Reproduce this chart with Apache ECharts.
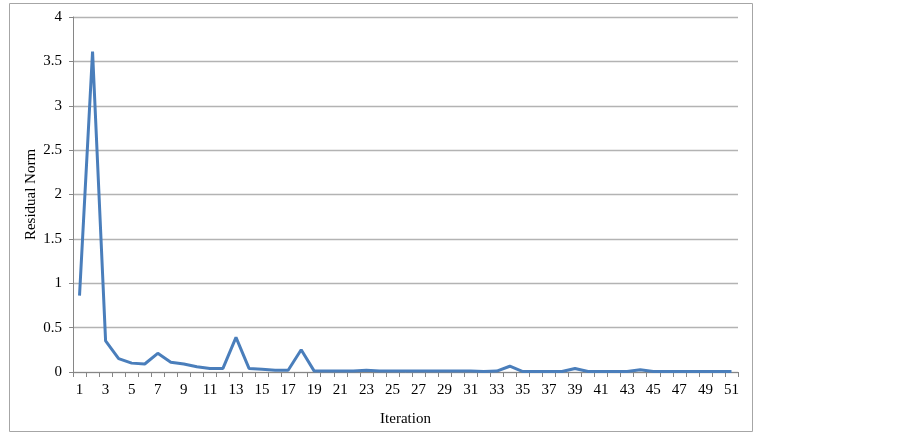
<!DOCTYPE html>
<html><head><meta charset="utf-8">
<script src="https://cdn.jsdelivr.net/npm/echarts@6/dist/echarts.min.js"></script>
<style>html,body{margin:0;padding:0;background:#fff}#c{width:902px;height:435px}</style>
</head><body><div id="c"></div>
<script>
const iterations = [];
for (let i = 1; i <= 51; i++) iterations.push(String(i));
const residualNorm = [0.86, 3.61, 0.35, 0.15, 0.10, 0.09, 0.21, 0.11, 0.09, 0.06,
  0.04, 0.04, 0.39, 0.04, 0.03, 0.02, 0.02, 0.25, 0.01, 0.01,
  0.01, 0.01, 0.02, 0.01, 0.01, 0.01, 0.01, 0.01, 0.01, 0.01,
  0.01, 0.005, 0.01, 0.065, 0.005, 0.005, 0.005, 0.005, 0.04, 0.005,
  0.005, 0.005, 0.005, 0.025, 0.005, 0.005, 0.005, 0.005, 0.005, 0.005, 0.005];
const yTicks = { min: 0, max: 4, interval: 0.5 };

const chart = echarts.init(document.getElementById('c'), null, { renderer: 'canvas' });
const font = '"Liberation Serif", "Times New Roman", serif';
chart.setOption({
  animation: false,
  graphic: [{
    type: 'rect', shape: { x: 9.5, y: 3.5, width: 743, height: 428 },
    style: { fill: 'none', stroke: '#a6a6a6', lineWidth: 1 }, z: -1
  }],
  grid: { left: 73, right: 164, top: 17, bottom: 63 },
  xAxis: {
    type: 'category', data: iterations, boundaryGap: true,
    name: 'Iteration', nameLocation: 'middle', nameGap: 40, nameMoveOverlap: false,
    nameTextStyle: { fontFamily: font, fontSize: 15, color: '#000' },
    axisLine: { lineStyle: { color: '#868686', width: 1 } },
    axisTick: { show: true, interval: 0, length: 5, lineStyle: { color: '#868686' } },
    axisLabel: { interval: 1, fontFamily: font, fontSize: 15, color: '#000', margin: 11 }
  },
  yAxis: {
    type: 'value', min: yTicks.min, max: yTicks.max, interval: yTicks.interval,
    name: 'Residual Norm', nameLocation: 'middle', nameGap: 34, nameRotate: 90, nameMoveOverlap: false,
    nameTextStyle: { fontFamily: font, fontSize: 15, color: '#000' },
    axisLine: { show: true, lineStyle: { color: '#868686', width: 1 } },
    axisTick: { show: true, length: 4, lineStyle: { color: '#868686' } },
    axisLabel: { fontFamily: font, fontSize: 15, color: '#000', margin: 11 },
    splitLine: { show: true, lineStyle: { color: '#b3b3b3', width: 1.3 } }
  },
  series: [{
    type: 'line', data: residualNorm, showSymbol: false, symbol: 'none',
    lineStyle: { color: '#4a7ebb', width: 3 }
  }]
});
</script></body></html>
